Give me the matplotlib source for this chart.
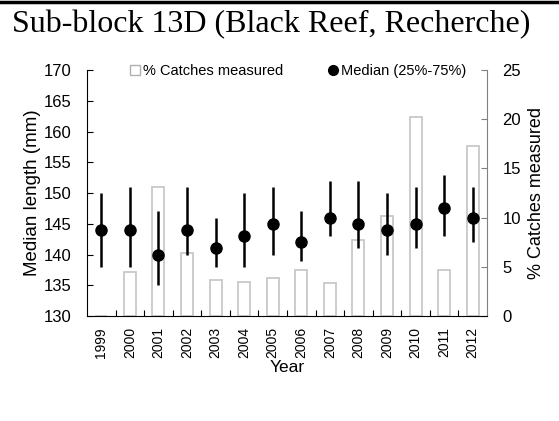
import matplotlib
matplotlib.use("Agg")
import matplotlib.pyplot as plt
from matplotlib.lines import Line2D
from matplotlib.patches import Patch

# data
years = [1999, 2000, 2001, 2002, 2003, 2004, 2005, 2006, 2007, 2008, 2009, 2010, 2011, 2012]
median = [144, 144, 140, 144, 141, 143, 145, 142, 146, 145, 144, 145, 147.5, 146]
q25 = [138, 138, 135, 140, 138, 138, 140, 139, 143, 141, 140, 141, 143, 142]
q75 = [150, 151, 147, 151, 146, 150, 151, 147, 152, 152, 150, 151, 153, 151]
pct_measured = [0, 4.5, 13.1, 6.4, 3.7, 3.5, 3.85, 4.7, 3.4, 7.7, 10.2, 20.2, 4.7, 17.3]

plt.rcParams['font.family'] = ['Liberation Sans', 'DejaVu Sans']

fig = plt.figure(figsize=(5.59, 4.21), dpi=100)
ax = fig.add_axes([0.1556, 0.2494, 0.7156, 0.5843])
ax2 = ax.twinx()

# bars on the right axis, behind the medians
ax2.bar(years, pct_measured, width=0.42, color='white', edgecolor='#c8c8c8', linewidth=1.3)
ax2.set_ylim(0, 25)
ax2.set_yticks([0, 5, 10, 15, 20, 25])
ax2.set_ylabel('% Catches measured', fontsize=13, labelpad=5)
ax2.tick_params(axis='y', direction='in', length=4, pad=11, labelsize=12, color='#808080')

ax.set_zorder(ax2.get_zorder() + 1)
ax.patch.set_visible(False)

lo = [m - a for m, a in zip(median, q25)]
hi = [b - m for m, b in zip(median, q75)]
ax.errorbar(years, median, yerr=[lo, hi], fmt='o', color='black', ms=8,
            elinewidth=1.8, capsize=0)
ax.set_ylim(130, 170)
ax.set_yticks(range(130, 171, 5))
ax.set_xlim(1998.5, 2012.5)
ax.set_ylabel('Median length (mm)', fontsize=13.5, labelpad=2)
ax.tick_params(axis='y', direction='in', length=4, pad=11, labelsize=12)

# ticks between the years, labels at the years
bounds = [y + 0.5 for y in years[:-1]]
ax.set_xticks(bounds)
ax.set_xticklabels([])
ax.set_xticks(years, minor=True)
ax.set_xticklabels([str(y) for y in years], minor=True, rotation=90, fontsize=10)
ax.tick_params(axis='x', which='major', direction='in', length=4)
ax.tick_params(axis='x', which='minor', length=0, pad=8)
ax.set_xlabel('Year', fontsize=12.5, labelpad=1)

for a in (ax, ax2):
    a.spines['top'].set_visible(False)
ax.spines['right'].set_visible(False)
ax2.spines['left'].set_visible(False)
ax2.spines['bottom'].set_visible(False)
ax2.spines['right'].set_color('#808080')

handles = [Patch(facecolor='white', edgecolor='#b0b0b0', linewidth=1),
           Line2D([], [], marker='o', color='black', linestyle='none', ms=7)]
ax.legend(handles, ['% Catches measured', 'Median (25%-75%)'], ncol=2, loc='upper center',
          bbox_to_anchor=(0.528, 1.055), frameon=False, fontsize=10.5, handlelength=0.7,
          handletextpad=0.2, columnspacing=3.1, borderpad=0)

fig.text(0.021, 0.942, 'Sub-block 13D (Black Reef, Recherche)', family='Liberation Serif',
         fontsize=23, ha='left', va='center')
fig.add_artist(Line2D([0, 1], [0.996, 0.996], color='black', lw=2.5, transform=fig.transFigure))

fig.savefig('out.png', dpi=100)
